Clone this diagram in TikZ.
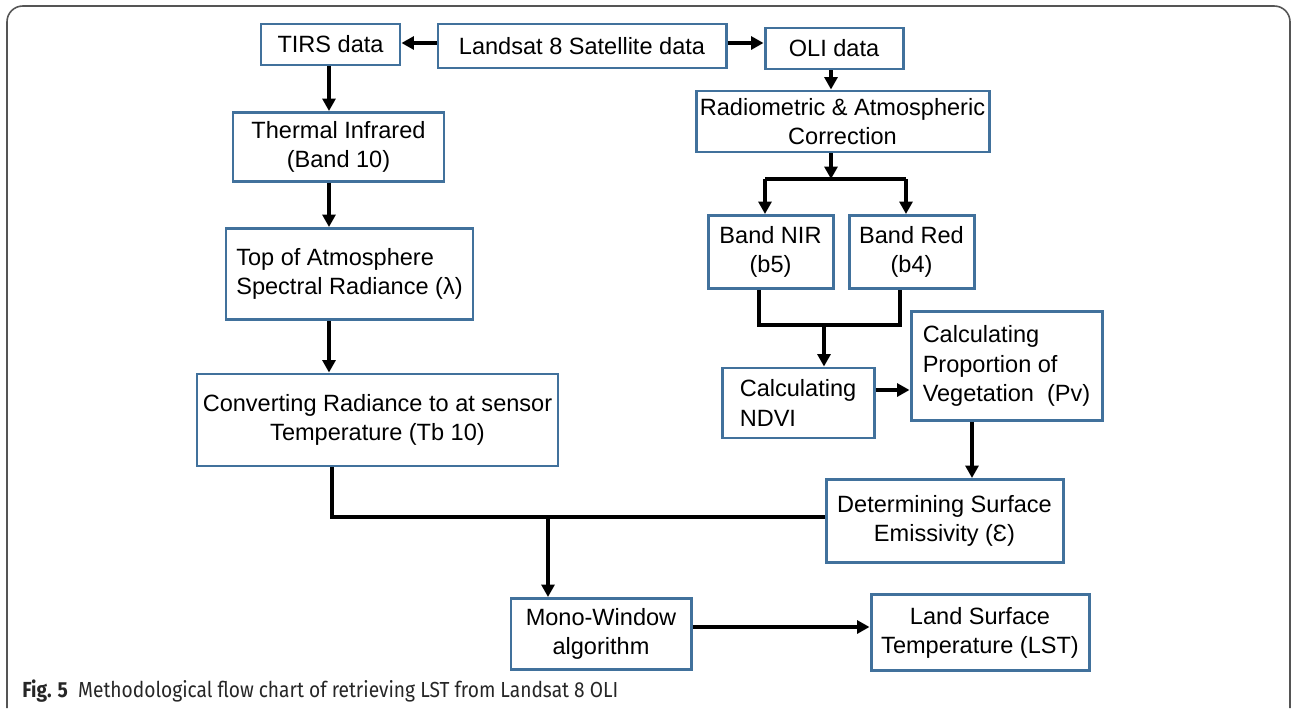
\documentclass[tikz,border=0pt]{standalone}
\usepackage{fontspec}
\usepackage{tikz}
\usetikzlibrary{
  arrows.meta,
  positioning,
  calc
}
\newfontfamily\boxfont{Liberation Sans}
\newfontfamily\captfont[FakeStretch=0.88]{Fira Sans}
\definecolor{lstBlue}{HTML}{41719C}
\definecolor{lstFrame}{HTML}{555555}
\tikzset{
  lstbox/.style={
    draw=lstBlue, line width=1.7pt, fill=white, inner sep=2pt,
    font=\boxfont\fontsize{13.4}{16.6}\selectfont, align=center
  },
  lstboxl/.style={lstbox, align=left},
  flowline/.style={line width=2pt, black},
  flowarr/.style={flowline, -{Triangle[length=2.5mm, width=2.6mm]}},
  capt/.style={font=\captfont\fontsize{12.4}{14}\selectfont, anchor=base west, inner sep=0pt, text=black!85}
}

\begin{document}
\begin{tikzpicture}[x=0.02cm, y=-0.02cm]
  \useasboundingbox (0,0) rectangle (1292,710);
  \draw[lstFrame, line width=0.9pt, rounded corners=9pt] (7,708) -- (7,6) -- (1290,6) -- (1290,708);

  % upper row
  \node[lstbox, minimum width=288*0.02cm, minimum height=44*0.02cm] (landsat) at (582,46) {Landsat 8 Satellite data};
  \node[lstbox, minimum width=139*0.02cm, minimum height=41*0.02cm] (tirs) at (330.5,44.5) {TIRS data};
  \node[lstbox, minimum width=138*0.02cm, minimum height=41*0.02cm] (oli) at (834,48.5) {OLI data};

  % thermal branch
  \node[lstbox, minimum width=211*0.02cm, minimum height=69*0.02cm] (thermal) at (338.5,147) {Thermal Infrared\\(Band 10)};
  \node[lstboxl, minimum width=247*0.02cm, minimum height=91*0.02cm] (toa) at (349.5,274) {Top of Atmosphere\\Spectral Radiance (λ)};
  \node[lstbox, minimum width=361*0.02cm, minimum height=92*0.02cm] (conv) at (377.5,420) {Converting Radiance to at sensor\\Temperature (Tb 10)};

  % OLI branch
  \node[lstbox, minimum width=293*0.02cm, minimum height=61*0.02cm, inner sep=1pt] (radcorr) at (842.5,121.5) {Radiometric \& Atmospheric\\Correction};
  \node[lstbox, minimum width=125*0.02cm, minimum height=73*0.02cm] (nir) at (770.5,252) {Band NIR\\(b5)};
  \node[lstbox, minimum width=125*0.02cm, minimum height=73*0.02cm] (red) at (911.5,252) {Band Red\\(b4)};
  \node[lstboxl, minimum width=152*0.02cm, minimum height=70*0.02cm] (ndvi) at (798,403) {Calculating\\NDVI};
  \node[lstboxl, minimum width=191*0.02cm, minimum height=109*0.02cm] (pv) at (1006.5,366) {Calculating\\Proportion of\\Vegetation\ \ (Pv)};
  \node[lstbox, minimum width=237*0.02cm, minimum height=83*0.02cm] (emis) at (944.5,521) {Determining Surface\\Emissivity (Ɛ)};

  % bottom row
  \node[lstbox, minimum width=180*0.02cm, minimum height=71*0.02cm] (mono) at (601,634) {Mono-Window\\algorithm};
  \node[lstbox, minimum width=218*0.02cm, minimum height=76*0.02cm] (lst) at (980,632.5) {Land Surface\\Temperature (LST)};

  \coordinate (tcol) at (329,0);
  \coordinate (split) at (831,179);
  \coordinate (splitL) at (765,179);
  \coordinate (splitR) at (906,179);
  \coordinate (jL) at (759,325);
  \coordinate (jR) at (900,325);
  \coordinate (join) at (824,325);
  \coordinate (ndviout) at (874,390);
  \coordinate (pvdown) at (972,0);
  \coordinate (cdrop) at (332,517);
  \coordinate (merge) at (548,517);
  \coordinate (monoout) at (0,627);

  \draw[flowarr] (landsat.west |- 0,43) -- (tirs.east |- 0,43);
  \draw[flowarr] (landsat.east |- 0,43) -- (oli.west |- 0,43);
  \draw[flowarr] (tirs.south -| tcol) -- (thermal.north -| tcol);
  \draw[flowarr] (thermal.south -| tcol) -- (toa.north -| tcol);
  \draw[flowarr] (toa.south -| tcol) -- (conv.north -| tcol);

  \draw[flowarr] (oli.south -| split) -- (radcorr.north -| split);
  \draw[flowarr] (radcorr.south -| split) -- (split);
  \draw[flowline] (splitL) -- (splitR);
  \draw[flowarr] (splitL) -- (nir.north -| splitL);
  \draw[flowarr] (splitR) -- (red.north -| splitR);
  \draw[flowline] (nir.south -| jL) -- (jL) -- (jR) -- (red.south -| jR);
  \draw[flowarr] (join) -- (ndvi.north -| join);
  \draw[flowarr] (ndvi.east |- ndviout) -- (pv.west |- ndviout);
  \draw[flowarr] (pv.south -| pvdown) -- (emis.north -| pvdown);

  \draw[flowline] (conv.south -| cdrop) -- (cdrop) -- (emis.west |- cdrop);
  \draw[flowarr] (merge) -- (mono.north -| merge);
  \draw[flowarr] (mono.east |- monoout) -- (lst.west |- monoout);

  \node[capt] (caption) at (22,697) {\textbf{Fig. 5}\ \ Methodological flow chart of retrieving LST from Landsat 8 OLI};
\end{tikzpicture}
\end{document}
